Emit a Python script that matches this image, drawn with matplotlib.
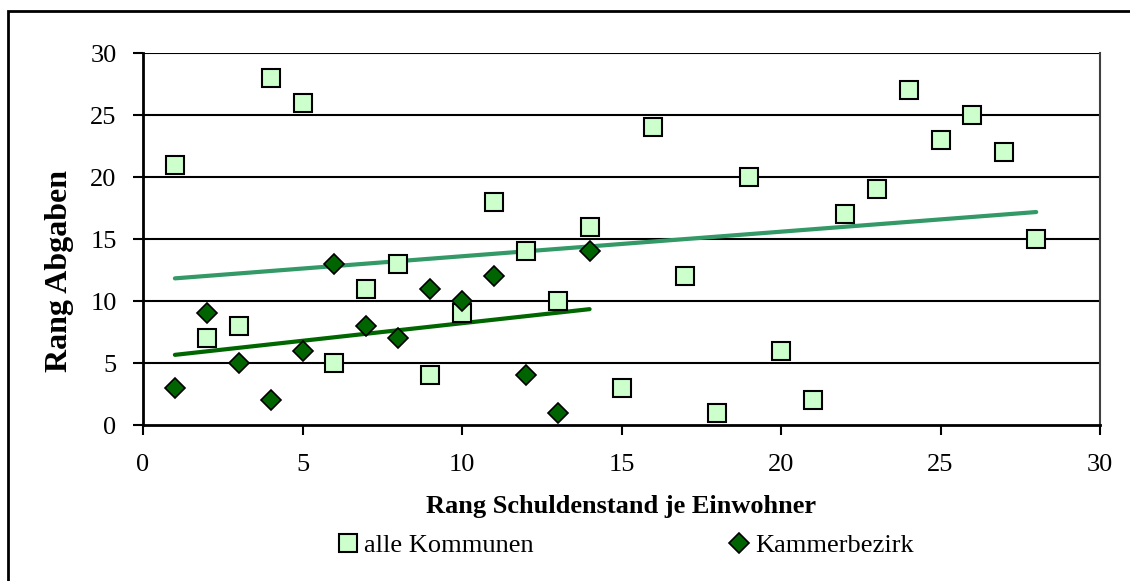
import matplotlib.pyplot as plt
import numpy as np
from matplotlib.patches import Rectangle

# Rang Schuldenstand je Einwohner (x) vs. Rang Abgaben (y)
alle_x = list(range(1, 29))
alle_y = [21, 7, 8, 28, 26, 5, 11, 13, 4, 9, 18, 14, 10, 16, 3,
          24, 12, 1, 20, 6, 2, 17, 19, 27, 23, 25, 22, 15]
kammer_x = list(range(1, 15))
kammer_y = [3, 9, 5, 2, 6, 13, 8, 7, 11, 10, 12, 4, 1, 14]

x_ticks = [0, 5, 10, 15, 20, 25, 30]
y_ticks = [0, 5, 10, 15, 20, 25, 30]

plt.rcParams["font.family"] = ["Liberation Serif", "DejaVu Serif"]

fig = plt.figure(figsize=(11.3, 5.81), dpi=100)
ax = fig.add_axes([143 / 1130, 1 - 425 / 581, (1100 - 143) / 1130, (425 - 53) / 581])

# outer chart-area frame (runs off the right and bottom edges)
fig.patches.append(Rectangle((8 / 1130, -0.1), 1.2, 1 - 11 / 581 + 0.1,
                             transform=fig.transFigure, fill=False,
                             edgecolor="black", linewidth=2, zorder=0))

for yv in y_ticks[1:]:
    ax.axhline(yv, color="black", linewidth=1.5, zorder=1)

# linear trend lines
for xs, ys, col in [(alle_x, alle_y, "#339966"), (kammer_x, kammer_y, "#006600")]:
    k, d = np.polyfit(xs, ys, 1)
    xx = np.array([min(xs), max(xs)])
    ax.plot(xx, k * xx + d, color=col, linewidth=3, zorder=2, solid_capstyle="round")

ax.plot(alle_x, alle_y, linestyle="none", marker="s", markersize=13.5,
        markerfacecolor="#CCFFCC", markeredgecolor="black", markeredgewidth=1.5,
        label="alle Kommunen", zorder=3)
ax.plot(kammer_x, kammer_y, linestyle="none", marker="D", markersize=10.5,
        markerfacecolor="#006400", markeredgecolor="black", markeredgewidth=1.2,
        label="Kammerbezirk", zorder=4)

ax.set_xlim(0, 30)
ax.set_ylim(0, 30)
ax.set_xticks(x_ticks)
ax.set_yticks(y_ticks)
ax.tick_params(labelsize=19, length=7, width=1.5, color="black")
ax.tick_params(axis="x", pad=14)
ax.tick_params(axis="y", pad=12)
for side in ["left", "bottom"]:
    ax.spines[side].set_linewidth(2)
    ax.spines[side].set_color("black")
ax.spines["right"].set_color("#404040")
ax.spines["right"].set_linewidth(1.5)
ax.spines["top"].set_visible(False)

ax.set_xlabel("Rang Schuldenstand je Einwohner", fontsize=19, fontweight="bold", va="center")
ax.xaxis.set_label_coords(0.5, (425 - 507) / 372)
ax.set_ylabel("Rang Abgaben", fontsize=23, fontweight="bold", va="center")
ax.yaxis.set_label_coords((59 - 143) / 957, (425 - 271) / 372)

fig.legend(loc="center", bbox_to_anchor=(0.551, 1 - 545 / 581), ncol=2, frameon=False,
           fontsize=19, handletextpad=0.0, columnspacing=7.2, handlelength=1.2,
           markerscale=1.0)

fig.savefig("out.png", dpi=100)
